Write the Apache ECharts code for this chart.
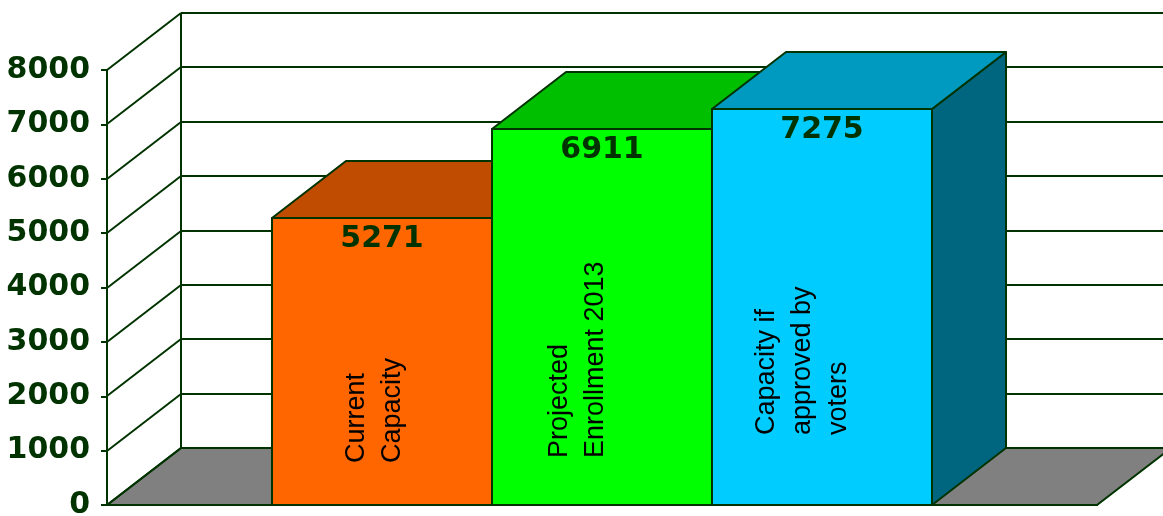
<!DOCTYPE html>
<html>
  <head>
    <meta charset="utf-8" />
    <title>Capacity</title>
    <style type="text/css">
      html,
      body {
        margin: 0;
        padding: 0;
        background: #fff;
      }
      #chart {
        width: 1163px;
        height: 516px;
      }
    </style>
    <script src="https://cdn.jsdelivr.net/npm/echarts@6/dist/echarts.min.js"></script>
  </head>
  <body>
    <div id="chart"></div>
    <script type="text/javascript">
      // data
      var categories = [
        "Current\nCapacity",
        "Projected\nEnrollment 2013",
        "Capacity if\napproved by\nvoters",
      ];
      var values = [5271, 6911, 7275];
      var yTicks = [0, 1000, 2000, 3000, 4000, 5000, 6000, 7000, 8000];

      // looks
      var frontColors = ["#ff6600", "#00ff00", "#00ccff"];
      var topColors = ["#bf4c00", "#00bf00", "#0099bf"];
      var sideColors = ["#803300", "#008000", "#006680"];
      var ink = "#003300";
      var dx = 74,
        dy = -57;
      // where each rotated caption sits, relative to its bar's front-left / base
      var labelNudge = [
        [103, -42],
        [86, -47],
        [91, -70],
      ];

      var chart = echarts.init(document.getElementById("chart"));

      function renderWalls(params, api) {
        var cs = params.coordSys;
        var left = Math.round(cs.x),
          right = Math.round(cs.x + cs.width);
        var v = api.value(1);
        var y = Math.round(api.coord([0, v])[1]);
        var line = { stroke: ink, lineWidth: 2 };
        var children = [];
        if (v === yTicks[0]) {
          var yTop = Math.round(api.coord([0, yTicks[yTicks.length - 1]])[1]);
          children.push({
            type: "polygon",
            shape: {
              points: [
                [left, y],
                [left + dx, y + dy],
                [right + dx, y + dy],
                [right, y],
              ],
            },
            style: { fill: "#808080", stroke: ink, lineWidth: 2 },
          });
          children.push({
            type: "line",
            shape: { x1: left + dx, y1: y + dy, x2: left + dx, y2: yTop + dy },
            style: line,
          });
        }
        children.push({
          type: "line",
          shape: { x1: left, y1: y, x2: left + dx, y2: y + dy },
          style: line,
        });
        children.push({
          type: "line",
          shape: { x1: left + dx, y1: y + dy, x2: right + dx, y2: y + dy },
          style: line,
        });
        return { type: "group", children: children };
      }

      function renderBar(params, api) {
        var i = params.dataIndex;
        var band = api.size([1, 0])[0];
        var w = Math.round((band * 2) / 9);
        var center = api.coord([0, 0]);
        var base = Math.round(center[1]);
        var top = Math.round(api.coord([0, api.value(1)])[1]);
        var x0 = Math.round(center[0] - band / 3) + i * w;
        var x1 = x0 + w;
        var edge = { stroke: ink, lineWidth: 2, lineJoin: "round" };
        return {
          type: "group",
          children: [
            {
              type: "polygon",
              shape: {
                points: [
                  [x1, base],
                  [x1 + dx, base + dy],
                  [x1 + dx, top + dy],
                  [x1, top],
                ],
              },
              style: Object.assign({ fill: sideColors[i] }, edge),
            },
            {
              type: "polygon",
              shape: {
                points: [
                  [x0, top],
                  [x0 + dx, top + dy],
                  [x1 + dx, top + dy],
                  [x1, top],
                ],
              },
              style: Object.assign({ fill: topColors[i] }, edge),
            },
            {
              type: "rect",
              shape: { x: x0, y: top, width: w, height: base - top },
              style: Object.assign({ fill: frontColors[i] }, edge),
            },
            {
              type: "text",
              x: (x0 + x1) / 2,
              y: top + 21,
              style: {
                text: String(api.value(1)),
                fill: ink,
                font: "bold 30px 'DejaVu Sans'",
                align: "center",
                verticalAlign: "middle",
              },
            },
            {
              type: "text",
              x: x0 + labelNudge[i][0],
              y: base + labelNudge[i][1],
              rotation: Math.PI / 2,
              style: {
                text: categories[i],
                fill: "#000",
                font: "27px 'Liberation Sans'",
                lineHeight: 36,
                align: "left",
                verticalAlign: "middle",
              },
            },
          ],
        };
      }

      var option = {
        animation: false,
        grid: {
          left: 107,
          right: 66,
          top: 70,
          bottom: 11,
          containLabel: false,
          outerBoundsMode: "none",
        },
        xAxis: {
          type: "category",
          data: ["Capacity"],
          axisLine: { lineStyle: { color: ink, width: 2 } },
          axisTick: { length: 5, lineStyle: { color: ink, width: 2 } },
          axisLabel: { show: false },
        },
        yAxis: {
          type: "value",
          min: 0,
          max: 8000,
          interval: 1000,
          axisLine: { show: true, lineStyle: { color: ink, width: 2 } },
          axisTick: { show: true, length: 6, lineStyle: { color: ink, width: 2 } },
          splitLine: { show: false },
          axisLabel: {
            margin: 17,
            color: ink,
            fontFamily: "DejaVu Sans",
            fontWeight: "bold",
            fontSize: 30,
            formatter: function (v) {
              return String(v);
            },
          },
        },
        series: [
          {
            type: "custom",
            renderItem: renderWalls,
            data: yTicks.map(function (v) {
              return [0, v];
            }),
            encode: { x: 0, y: 1 },
            silent: true,
            z: 1,
          },
          {
            type: "custom",
            renderItem: renderBar,
            data: values.map(function (v) {
              return [0, v];
            }),
            encode: { x: 0, y: 1 },
            z: 3,
          },
        ],
      };
      chart.setOption(option);
    </script>
  </body>
</html>
